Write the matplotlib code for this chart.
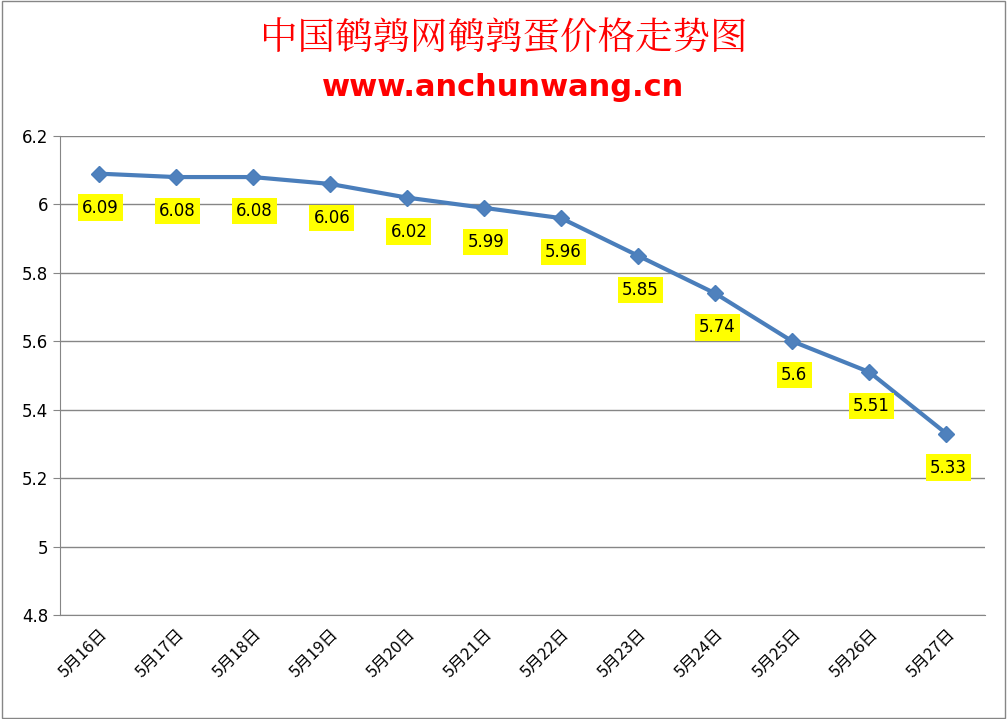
import matplotlib
matplotlib.use("Agg")
import matplotlib.pyplot as plt
from matplotlib.patches import Rectangle

dates = ["5月16日", "5月17日", "5月18日", "5月19日", "5月20日", "5月21日",
         "5月22日", "5月23日", "5月24日", "5月25日", "5月26日", "5月27日"]
prices = [6.09, 6.08, 6.08, 6.06, 6.02, 5.99, 5.96, 5.85, 5.74, 5.6, 5.51, 5.33]
yticks = [4.8, 5, 5.2, 5.4, 5.6, 5.8, 6, 6.2]
ytick_labels = ["4.8", "5", "5.2", "5.4", "5.6", "5.8", "6", "6.2"]

plt.rcParams["font.family"] = ["Noto Sans CJK SC", "DejaVu Sans"]

fig = plt.figure(figsize=(10.07, 7.19), dpi=100)
fig.patches.append(Rectangle((0.002, 0.002), 0.996, 0.996, transform=fig.transFigure,
                             fill=False, edgecolor="#868686", linewidth=1))
ax = fig.add_axes([60/1007, 1-615/719, 925/1007, 479/719])

x = range(len(dates))
ax.plot(x, prices, color="#4A7EBB", linewidth=3, marker="D", markersize=8,
        markerfacecolor="#4F81BD", markeredgecolor="#4A7EBB")
for i, v in enumerate(prices):
    ax.annotate(f"{v:g}", (i, v), xytext=(2, -34), textcoords="offset points" if False else "offset pixels",
                ha="center", va="center", fontsize=12, fontfamily="DejaVu Sans",
                bbox=dict(boxstyle="square,pad=0.25", facecolor="#FFFF00", edgecolor="none"))

ax.set_xlim(-0.5, len(dates) - 0.5)
ax.set_ylim(4.8, 6.2)
ax.set_yticks(yticks)
ax.set_yticklabels(ytick_labels, fontsize=12, fontfamily="DejaVu Sans")
ax.set_xticks(list(x))
ax.set_xticklabels(dates, rotation=45, ha="right", rotation_mode="anchor", fontsize=12)
ax.grid(axis="y", color="#868686", linewidth=1)
ax.set_axisbelow(True)
for s in ["top", "right"]:
    ax.spines[s].set_visible(False)
ax.spines["left"].set_color("#868686")
ax.spines["bottom"].set_color("#868686")
ax.tick_params(axis="y", length=5, color="#868686")
ax.tick_params(axis="x", length=0, pad=8)

fig.text(0.5, 1-40/719, "中国鹌鹑网鹌鹑蛋价格走势图", ha="center", va="center",
         color="#FF0000", fontsize=27, fontfamily="Noto Serif CJK SC")
fig.text(0.5, 1-87/719, "www.anchunwang.cn", ha="center", va="center",
         color="#FF0000", fontsize=22, fontweight="bold", fontfamily="DejaVu Sans")

fig.savefig("out.png", dpi=100)
